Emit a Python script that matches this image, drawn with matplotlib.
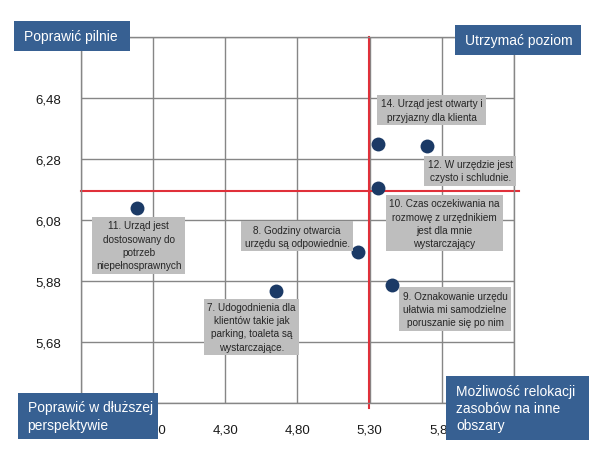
import numpy as np
import matplotlib.pyplot as plt
from matplotlib.patches import Rectangle

# dane
etykiety = ['14. Urząd jest otwarty i\nprzyjazny dla klienta',
            '12. W urzędzie jest\nczysto i schludnie.',
            '10. Czas oczekiwania na\nrozmowę z urzędnikiem\njest dla mnie\nwystarczający',
            '11. Urząd jest\ndostosowany do\npotrzeb\nniepełnosprawnych',
            '8. Godziny otwarcia\nurzędu są odpowiednie.',
            '7. Udogodnienia dla\nklientów takie jak\nparking, toaleta są\nwystarczające.',
            '9. Oznakowanie urzędu\nułatwia mi samodzielne\nporuszanie się po nim']
x = np.array([5.354, 5.697, 5.354, 3.687, 5.220, 4.649, 5.455])
y = np.array([6.330, 6.324, 6.185, 6.119, 5.975, 5.848, 5.867])
x_prog = 5.295
y_prog = 6.176
xticks = np.arange(3.30, 6.31, 0.5)
yticks = np.arange(5.48, 6.69, 0.2)
# etykiety osi calkowicie zasloniete przez niebieskie pola
xlab = ['', '3,80', '4,30', '4,80', '5,30', '5,80', '']
ylab = ['', '5,68', '5,88', '6,08', '6,28', '6,48', '']

# przesuniecia etykiet (piksele)
offsety = [(54, 34), (43, -25), (67, -35), (2, -37), (-61, 16), (-24, -36), (63, -24)]

W, H = 606, 456
fig = plt.figure(figsize=(W / 100, H / 100), dpi=100)
plt.rcParams['font.family'] = 'Liberation Sans'

def fx(px):
    return px / W

def fy(py):
    return 1 - py / H

ax = fig.add_axes([fx(80.7), fy(404), fx(514.3) - fx(80.7), fy(38.3) - fy(404)])
ax.set_xlim(3.30, 6.30)
ax.set_ylim(5.48, 6.68)
ax.set_xticks(xticks)
ax.set_yticks(yticks)
ax.set_xticklabels(xlab)
ax.set_yticklabels(ylab)
ax.tick_params(length=0, labelsize=9.5, colors='#1a1a1a')
ax.tick_params(axis='x', pad=15)
ax.tick_params(axis='y', pad=14)
ax.grid(True, color='#868686', linewidth=1)
for s in ax.spines.values():
    s.set_color('#868686')
    s.set_linewidth(1)

# linie podzialu
ax.plot([x_prog, x_prog], [5.465, 6.68], color='#E0303A', linewidth=1.5, clip_on=False, zorder=2)
ax.plot([3.30, 6.33], [y_prog, y_prog], color='#E0303A', linewidth=1.5, clip_on=False, zorder=2)

ax.scatter(x, y, s=100, color='#1B3A66', zorder=4, linewidths=0)

for i in range(len(x)):
    ax.annotate(etykiety[i], (x[i], y[i]), xytext=offsety[i], textcoords='offset pixels',
                ha='center', va='center', multialignment='center', fontsize=7.2,
                color='#262626', linespacing=1.4, zorder=5,
                bbox=dict(boxstyle='square,pad=0.35', fc='#BEBEBE', ec='none'))

# niebieskie pola
pola = [('Poprawić pilnie', 13.7, 22, 130, 52),
        ('Utrzymać poziom', 455, 26, 581, 56),
        ('Poprawić w dłuższej\nperspektywie', 17.6, 394, 157.7, 440),
        ('Możliwość relokacji\nzasobów na inne\nobszary', 446, 377, 589, 441)]
for txt, x0, y0, x1, y1 in pola:
    fig.add_artist(Rectangle((fx(x0), fy(y1)), fx(x1) - fx(x0), fy(y0) - fy(y1),
                             transform=fig.transFigure, fc='#376092', ec='none', zorder=10))
    fig.text(fx(x0 + 10), (fy(y0) + fy(y1)) / 2, txt, ha='left', va='center',
             color='white', fontsize=10, linespacing=1.3, zorder=11)

fig.savefig('out.png', dpi=100)
